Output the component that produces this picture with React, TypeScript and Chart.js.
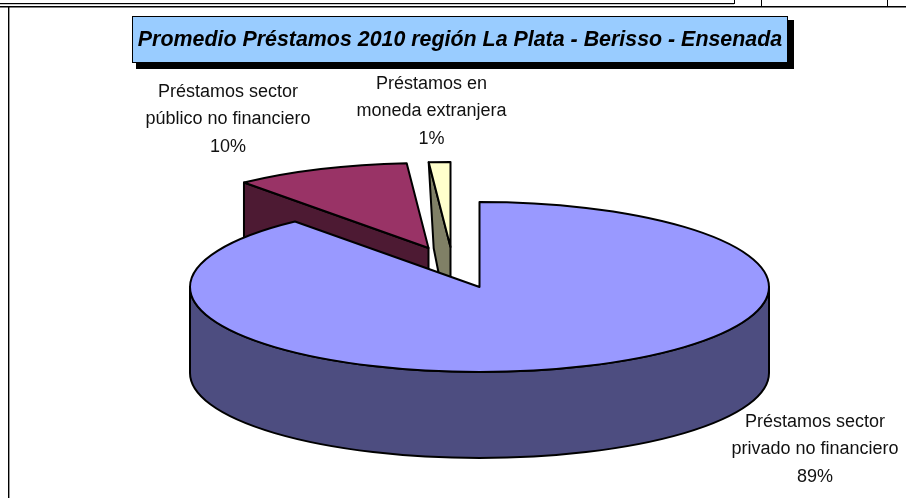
import React, { useEffect, useRef } from "react";
import { Chart, registerables } from "chart.js";

Chart.register(...registerables);

const categories = [
  "Préstamos sector privado no financiero",
  "Préstamos sector público no financiero",
  "Préstamos en moneda extranjera",
];
const seriesValues = [89, 9.8, 1.2];
const labelLines = [
  ["Préstamos sector", "privado no financiero"],
  ["Préstamos sector", "público no financiero"],
  ["Préstamos en", "moneda extranjera"],
];
const titleText = "Promedio Préstamos 2010 región La Plata - Berisso - Ensenada";
const faceColors = ["#9999FF", "#993366", "#FFFFCC"];
const wallColors = ["#4D4D80", "#4D1A33", "#808066"];

const CX = 479.5;
const CY = 287;
const RX = 289.5;
const RY = 85;
const DEPTH = 86;
const R = 170;
const TITLE_SIZE = 21.4;
const TITLE_H = TITLE_SIZE * 1.2;
const shifts = [[0, 0], [-51, -39], [-29, -40]];
const bottomSkew = [0, 0, 5];
const labelAnchors = [[815, 422], [228, 92], [431.5, 84]];
const LINE = 27.5;
const FONT = "18px 'Liberation Sans', Arial, sans-serif";

const pie3d = {
  id: "pie3d",
  beforeDraw(chart: any) {
    const c = chart.ctx;
    c.save();
    c.fillStyle = "#fff";
    c.fillRect(0, 0, 906, 498);
    // page rules around the chart
    c.fillStyle = "#000";
    c.fillRect(0, 3, 734, 1.2);
    c.fillRect(734, 0, 1, 4);
    c.fillRect(0, 6, 906, 1.5);
    c.fillRect(761, 0, 1, 7);
    c.fillRect(887, 0, 1, 7);
    c.fillRect(8, 7, 1.4, 491);
    // title box
    c.fillStyle = "#000";
    c.fillRect(136, 20, 658, 49);
    c.fillStyle = "#99CCFF";
    c.fillRect(132, 16, 656, 47);
    c.strokeStyle = "#000";
    c.lineWidth = 1;
    c.strokeRect(132.5, 16.5, 655, 46);
    c.restore();
  },
  afterLayout(chart: any) {
    const t = chart.titleBlock;
    if (t) {
      t.left = 132;
      t.right = 788;
      t.top = 40 - TITLE_H / 2;
      t.bottom = t.top + TITLE_H;
      t.width = 656;
      t.height = TITLE_H;
    }
  },
  beforeDatasetDraw(chart: any) {
    const c = chart.ctx;
    const arcs = chart.getDatasetMeta(0).data;
    const sx = RX / R;
    const sy = RY / R;
    const px = (i: number, a: number, r: number, z: number) => [
      arcs[i].x + shifts[i][0] + Math.cos(a) * r * sx,
      arcs[i].y + shifts[i][1] + Math.sin(a) * r * sy + z,
    ];
    const ellipse = (i: number, z: number, a0: number, a1: number, ccw = false) => {
      c.ellipse(
        arcs[i].x + shifts[i][0],
        arcs[i].y + shifts[i][1] + z,
        arcs[i].outerRadius * sx,
        arcs[i].outerRadius * sy,
        0,
        a0,
        a1,
        ccw,
      );
    };
    c.save();
    c.lineJoin = "round";
    c.strokeStyle = "#000";
    c.lineWidth = 2;
    for (let i = arcs.length - 1; i >= 0; i--) {
      const el = arcs[i];
      const s = el.startAngle;
      const e = el.endAngle;
      const r = el.outerRadius;
      // cut faces that look toward the viewer
      const faces: number[] = [];
      if (Math.cos(s) < -1e-6) faces.push(s);
      if (Math.cos(e) > 1e-6) faces.push(e);
      for (const a of faces) {
        const o = px(i, a, r, 0);
        const k = px(i, a, 0, 0);
        c.beginPath();
        c.moveTo(o[0], o[1]);
        c.lineTo(k[0], k[1]);
        c.lineTo(k[0], k[1] + DEPTH);
        c.lineTo(o[0] + bottomSkew[i], o[1] + DEPTH);
        c.closePath();
        c.fillStyle = wallColors[i];
        c.fill();
        c.stroke();
      }
      // outer wall, front half only
      const a0 = Math.max(s, 0);
      const a1 = Math.min(e, Math.PI);
      if (a1 > a0) {
        c.beginPath();
        ellipse(i, 0, a0, a1);
        ellipse(i, DEPTH, a1, a0, true);
        c.closePath();
        c.fillStyle = wallColors[i];
        c.fill();
        c.stroke();
      }
      // top face
      const k = px(i, 0, 0, 0);
      c.beginPath();
      c.moveTo(k[0], k[1]);
      ellipse(i, 0, s, e);
      c.closePath();
      c.fillStyle = faceColors[i];
      c.fill();
      c.stroke();
    }
    c.restore();
    return false;
  },
  afterDraw(chart: any) {
    const c = chart.ctx;
    const values = chart.data.datasets[0].data as number[];
    const total = values.reduce((a, b) => a + b, 0);
    c.save();
    c.font = FONT;
    c.fillStyle = "#111";
    c.textAlign = "center";
    c.textBaseline = "middle";
    labelLines.forEach((lines, i) => {
      const [x, y] = labelAnchors[i];
      const all = [...lines, `${Math.round((values[i] / total) * 100)}%`];
      all.forEach((t, j) => c.fillText(t, x, y + j * LINE));
    });
    c.restore();
  },
};

export default function App() {
  const ref = useRef<HTMLCanvasElement>(null);
  useEffect(() => {
    const chart = new Chart(ref.current as HTMLCanvasElement, {
      type: "pie",
      data: {
        labels: categories,
        datasets: [{ data: seriesValues, backgroundColor: faceColors, borderWidth: 0 }],
      },
      options: {
        responsive: false,
        animation: false,
        events: [],
        layout: {
          padding: {
            left: CX - R,
            right: 906 - CX - R,
            top: CY - R - TITLE_H,
            bottom: 498 - CY - R,
          },
        },
        plugins: {
          legend: { display: false },
          tooltip: { enabled: false },
          title: {
            display: true,
            text: titleText,
            color: "#000",
            padding: 0,
            font: { family: "'Liberation Sans', Arial, sans-serif", size: TITLE_SIZE, weight: "bold", style: "italic" },
          },
        },
      } as any,
      plugins: [pie3d],
    });
    return () => chart.destroy();
  }, []);
  return (
    <div style={{ position: "absolute", left: 0, top: 0, width: 906, height: 498 }}>
      <canvas ref={ref} width={906} height={498} style={{ display: "block" }} />
    </div>
  );
}
